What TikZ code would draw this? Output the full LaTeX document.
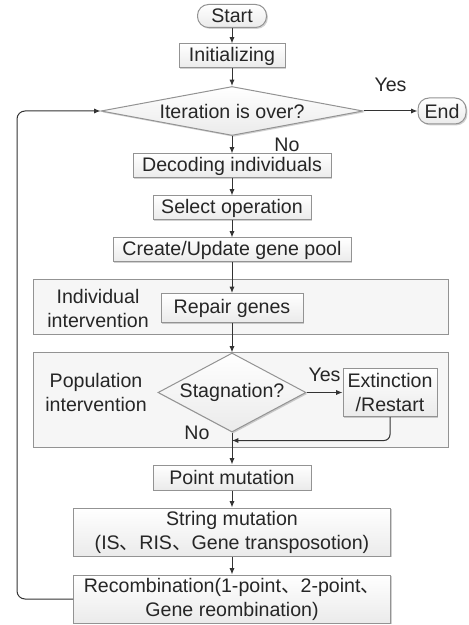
\documentclass[tikz,border=0pt]{standalone}
\usepackage{fontspec}
\setmainfont{Liberation Sans}
\newfontfamily\cjk{Noto Sans CJK SC}
\usetikzlibrary{shapes.geometric, positioning, arrows.meta, shadows}
\newcommand{\dun}{{\cjk 、}}
\tikzset{
->, % every connector is directed
>={Latex[length=3.2pt,width=2.6pt]}, % small filled heads
node distance=21pt, % centre to centre distance of the boxes
every node/.style={font=\fontsize{9.8}{12}\selectfont, text=black!85},
lightshadow/.style={drop shadow={shadow xshift=0.7pt, shadow yshift=-0.7pt, fill=black, opacity=0.18}},
box/.style={draw=gray!85, top color=white, bottom color=gray!16, lightshadow, minimum height=12pt, inner xsep=2pt, inner ysep=1.3pt, align=center}, % process steps
term/.style={box, rounded corners=5.5pt, minimum height=11.5pt}, % start and end
decision/.style={diamond, draw=gray!85, top color=white, bottom color=gray!16, lightshadow, inner sep=0pt}, % tests
panel/.style={draw=gray!85, fill=gray!7, lightshadow, minimum width=207.5pt}, % intervention frames
}

\begin{document}
\begin{tikzpicture}[color=black!80, line width=0.5pt]
\useasboundingbox (0,0) rectangle (234pt,-312.5pt);
\node[panel, minimum height=27pt] (indiv) at (120.25pt,-153.5pt) {};
\node[panel, minimum height=47.5pt] (popul) at (120.25pt,-199.75pt) {};

\node[term, minimum width=34.5pt] (start) at (116pt,-8pt) {Start};
\node[box, below of=start, node distance=20pt, minimum width=53pt] (init) {Initializing};
\node[decision, below of=init, node distance=27.5pt, minimum width=131pt, minimum height=24.5pt, shape aspect=5.3] (iter) {Iteration is over?};
\node[term, right of=iter, node distance=105pt, minimum width=24pt, minimum height=13pt] (end) {End};
\node[box, below of=iter, node distance=27.5pt, minimum width=99pt] (decode) {Decoding individuals};
\node[box, below of=decode, minimum width=79pt] (select) {Select operation};
\node[box, below of=select, minimum width=119pt] (pool) {Create/Update gene pool};
\node[box, below of=pool, node distance=29pt, minimum width=71pt, minimum height=14.5pt] (repair) {Repair genes};
\node[left of=repair, node distance=67pt, align=center] (indivlabel) {Individual\\intervention};
\node[decision, below of=repair, node distance=42.25pt, minimum width=74pt, minimum height=39.5pt, shape aspect=1.87] (stag) {Stagnation?};
\node[box, right of=stag, node distance=79pt, minimum width=47pt, minimum height=24pt] (ext) {Extinction\\/Restart};
\node[left of=stag, node distance=68pt, align=center] (popullabel) {Population\\intervention};
\node (stagno) at ([xshift=-17.5pt]stag.south) {No};
\coordinate (merge) at ([yshift=-4pt]stag.south);
\node[box, below of=stag, node distance=42.5pt, minimum width=79pt, minimum height=12.5pt] (point) {Point mutation};
\node[box, below of=point, node distance=27.25pt, minimum width=158.5pt, minimum height=24pt] (string) {String mutation\\(IS\dun RIS\dun Gene transposotion)};
\node[box, below of=string, node distance=33.5pt, minimum width=158.5pt, minimum height=24pt] (recomb) {Recombination(1-point\dun 2-point\dun\\Gene reombination)};

\draw (start) edge (init)
(init) edge (iter)
(iter) edge node[xshift=27.5pt] (iterno) {No} (decode)
(iter) edge node[above=6pt] (iteryes) {Yes} (end)
(decode) edge (select)
(select) edge (pool)
(pool) edge (repair)
(repair) edge (stag)
(stag) edge node[above=2pt] (stagyes) {Yes} (ext)
(point) edge (string)
(string) edge (recomb);
\draw (stag.south) -- (point.north);
\draw[rounded corners=3pt] (ext.south) |- (merge);
\draw[rounded corners=4pt] (recomb.west) -- ++(-28pt,0) |- (iter.west);
\end{tikzpicture}
\end{document}
